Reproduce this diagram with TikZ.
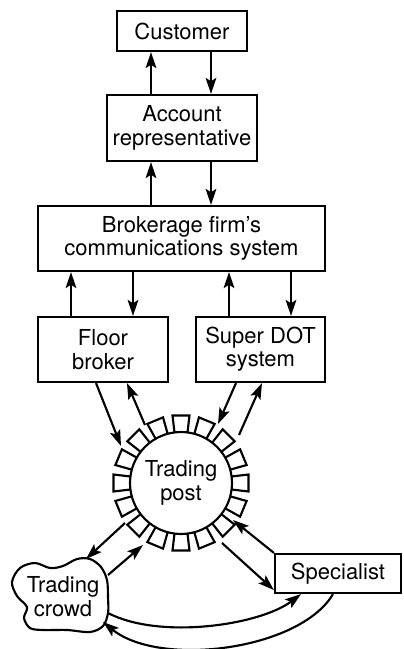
\documentclass[tikz,border=0pt]{standalone}
\usepackage{fontspec}
\setmainfont{TeX Gyre Heros}
\usetikzlibrary{arrows.meta,calc}

\tikzset{every picture/.style={line width=1.6pt}}
\tikzset{
  box/.style={draw, rectangle, inner sep=0pt, align=center, font=\fontsize{16.5}{17.5}\selectfont},
  lbl/.style={inner sep=0pt, align=center, font=\fontsize{16.5}{17.5}\selectfont},
  arr/.style={-{Stealth[length=12pt,width=8pt,inset=2.5pt]}}
}

\begin{document}
\begin{tikzpicture}[x=0.75pt,y=0.75pt,yscale=-1,xscale=1]
\useasboundingbox (0,0) rectangle (403,649);

% Boxes
\node [box, minimum width=97.5pt, minimum height=30pt] (cust) at (182,31) {Customer};
\node [box, minimum width=112.5pt, minimum height=49.5pt] (acct) at (182,128) {Account\\representative};
\node [box, minimum width=215.25pt, minimum height=48.75pt] (brok) at (181.5,238.5) {Brokerage firm’s\\communications system};
\node [box, minimum width=97.5pt, minimum height=48.75pt] (floor) at (103,349.5) {Floor\\broker};
\node [box, minimum width=96.75pt, minimum height=48.75pt] (sdot) at (260.5,349.5) {Super DOT\\system};
\node [box, minimum width=94.5pt, minimum height=29.25pt] (spec) at (338,573.5) {Specialist};

% Trading post with its teeth
\node [draw, circle, minimum size=76.5pt, inner sep=0pt, lbl] (post) at (181,483) {Trading\\post};
\begin{scope}[shift={(post.center)}]
  \foreach \a in {0,22.5,...,337.5}
    \draw [rotate=\a] (-6.5,50.6) -- (-8.5,67.5) -- (8.5,67.5) -- (6.5,50.6);
\end{scope}

% Trading crowd
\draw plot [smooth cycle, tension=0.55] coordinates {(12,582) (20,568) (35,563) (50,568) (63,566) (77,559) (90,559) (101,567) (107,580) (108,597) (108,613) (103,626) (90,632) (67,630) (43,630) (30,628) (24,618) (27,607) (17,596)};
\node [lbl] (crowd) at (63,596.5) {Trading\\crowd};
\coordinate (crowdtop) at (86,559);
\coordinate (crowdne) at (108,575);
\coordinate (crowdr) at (108,613);
\coordinate (crowdlow) at (103,622);

% Vertical connectors
\draw [arr] ($(acct.north)+(-31,0)$) -- ($(cust.south)+(-31,0)$);
\draw [arr] ($(cust.south)+(29,0)$) -- ($(acct.north)+(29,0)$);
\draw [arr] ($(brok.north)+(-30.5,0)$) -- ($(acct.south)+(-31,0)$);
\draw [arr] ($(acct.south)+(29,0)$) -- ($(brok.north)+(29.5,0)$);
\draw [arr] ($(floor.north)+(-32,0)$) -- ($(brok.south)+(-110.5,0)$);
\draw [arr] ($(brok.south)+(-48.5,0)$) -- ($(floor.north)+(30,0)$);
\draw [arr] ($(sdot.north)+(-31.5,0)$) -- ($(brok.south)+(47.5,0)$);
\draw [arr] ($(brok.south)+(109.5,0)$) -- ($(sdot.north)+(30.5,0)$);

% Post connectors
\draw [arr] ($(floor.south)+(-7,0)$) -- ($(post.center)+(-60,-37)$);
\draw [arr] ($(post.center)+(-36,-58)$) -- ($(floor.south)+(24,0)$);
\draw [arr] ($(sdot.south)+(-24.5,0)$) -- ($(post.center)+(37,-59)$);
\draw [arr] ($(post.center)+(58,-48)$) -- ($(sdot.south)+(1.5,0)$);
\draw [arr] ($(post.center)+(-56,40)$) -- (crowdtop);
\draw [arr] (crowdne) -- ($(post.center)+(-38,62)$);
\draw [arr] (spec.north west) -- ($(post.center)+(52,37)$);
\draw [arr] ($(post.center)+(41,60)$) -- ($(spec.south west)+(0,-4)$);

% Crowd and specialist
\draw [arr] (crowdr) .. controls +(52,27) and +(-41,31) .. ($(spec.south)+(-37,0)$);
\draw [arr] ($(spec.south)+(-5,0)$) .. controls +(-33,56) and +(57,46) .. (crowdlow);

\end{tikzpicture}
\end{document}
